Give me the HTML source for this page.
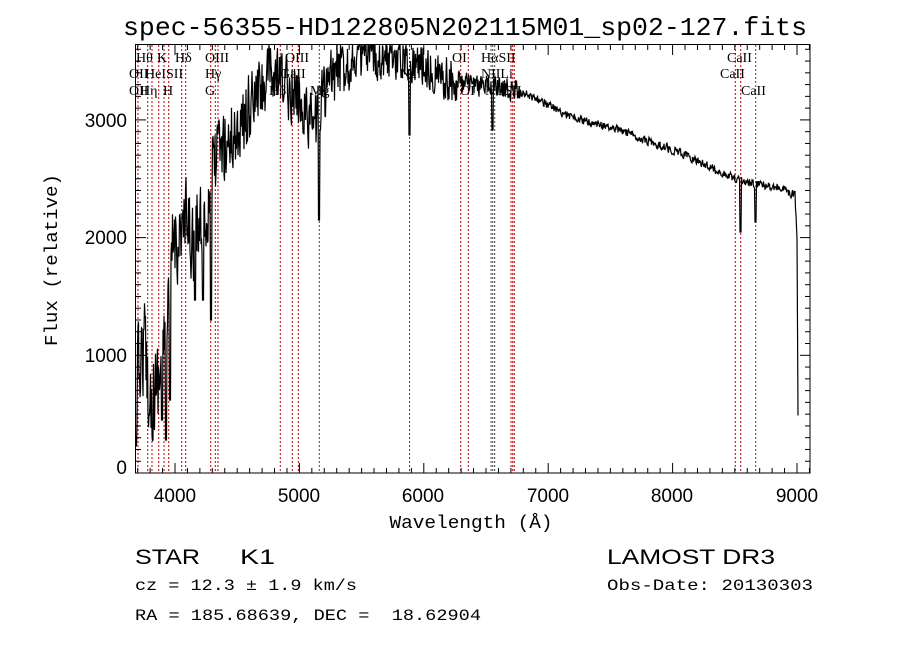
<!DOCTYPE html>
<html><head><meta charset="utf-8"><style>
html,body{margin:0;padding:0;background:#fff;}
svg{display:block;}
text{font-family:"Liberation Mono",monospace;fill:#000;}
.s text{font-family:"Liberation Serif",serif;font-size:14px;}
.t text{font-family:"Liberation Sans",sans-serif;font-size:19px;}
</style></head><body>
<svg id="c" width="900" height="649" viewBox="0 0 900 649" xmlns="http://www.w3.org/2000/svg">
<rect width="900" height="649" fill="#fff"/>
<text x="465" y="35" font-size="26" text-anchor="middle" textLength="684" lengthAdjust="spacingAndGlyphs">spec-56355-HD122805N202115M01_sp02-127.fits</text>
<g id="lines"></g>
<g id="spec"></g>
<g class="s">
<text x="136" y="62">Hθ</text><text x="157" y="62">K</text><text x="175" y="62">Hδ</text><text x="205" y="62">OIII</text><text x="285" y="62">OIII</text><text x="452" y="62">OI</text><text x="481" y="62">HαSII</text><text x="727" y="62">CaII</text>
<text x="129" y="78">OII</text><text x="145" y="78">HeI</text><text x="166" y="78">SII</text><text x="205" y="78">Hγ</text><text x="280" y="78">GaII</text><text x="400" y="78">Na</text><text x="481" y="78">NIILi</text><text x="720" y="78">CaII</text>
<text x="129" y="95">OII</text><text x="140" y="95">Hη</text><text x="163" y="95">H</text><text x="205" y="95">G</text><text x="269" y="95">Hβ</text><text x="310" y="95">Mg</text><text x="460" y="95">OI</text><text x="485" y="95">NIISII</text><text x="741" y="95">CaII</text>
</g>
<rect x="135.5" y="44.5" width="674.5" height="428.5" fill="none" stroke="#000" stroke-width="1"/>
<g id="ticks" stroke="#000" stroke-width="1"></g>
<g class="t">
<text x="175" y="502" text-anchor="middle">4000</text><text x="299" y="502" text-anchor="middle">5000</text><text x="423" y="502" text-anchor="middle">6000</text><text x="548" y="502" text-anchor="middle">7000</text><text x="672" y="502" text-anchor="middle">8000</text><text x="797" y="502" text-anchor="middle">9000</text>
<text x="127" y="474" text-anchor="end">0</text><text x="127" y="362" text-anchor="end">1000</text><text x="127" y="244" text-anchor="end">2000</text><text x="127" y="127" text-anchor="end">3000</text>
</g>
<text x="471" y="528" font-size="18" text-anchor="middle" textLength="163" lengthAdjust="spacingAndGlyphs">Wavelength (Å)</text>
<text transform="translate(57,260) rotate(-90)" font-size="18" text-anchor="middle" textLength="172" lengthAdjust="spacingAndGlyphs">Flux (relative)</text>
<text x="135" y="564" font-size="21" style="font-family:'Liberation Sans',sans-serif" textLength="65" lengthAdjust="spacingAndGlyphs">STAR</text>
<text x="240" y="564" font-size="21" style="font-family:'Liberation Sans',sans-serif" textLength="35" lengthAdjust="spacingAndGlyphs">K1</text>
<text x="607" y="564" font-size="21" style="font-family:'Liberation Sans',sans-serif" textLength="168" lengthAdjust="spacingAndGlyphs">LAMOST DR3</text>
<text x="135" y="590" font-size="16" textLength="222" lengthAdjust="spacingAndGlyphs">cz = 12.3 ± 1.9 km/s</text>
<text x="607" y="590" font-size="16" textLength="206" lengthAdjust="spacingAndGlyphs">Obs-Date: 20130303</text>
<text x="135" y="620" font-size="16" xml:space="preserve" textLength="346" lengthAdjust="spacingAndGlyphs">RA = 185.68639, DEC =  18.62904</text>
</svg>
<script>
var NS="http://www.w3.org/2000/svg";
function el(p,t,a){var e=document.createElementNS(NS,t);for(var k in a)e.setAttribute(k,a[k]);p.appendChild(e);return e;}
var L=document.getElementById('lines');
var red=[138,147.7,152,158.7,164,168.7,181.7,185.7,210.7,215.3,218,280.3,292.3,298.3,460.7,468.3,511,512.7,514.3,735.3,740.7];
var dark=[319.3,409.5,491,492.7,494.7,755.7];
red.forEach(function(x){el(L,'line',{x1:x,x2:x,y1:45,y2:473,stroke:'#c00000','stroke-dasharray':'2,2','stroke-width':1});});
dark.forEach(function(x){el(L,'line',{x1:x,x2:x,y1:45,y2:473,stroke:'#444','stroke-dasharray':'2,2','stroke-width':1});});
var T=document.getElementById('ticks');
for(var w=3700;w<=9100;w+=100){var x=175+(w-4000)*0.1244;if(x<136||x>810)continue;var len=(w%1000==0)?10:5;
el(T,'line',{x1:x,x2:x,y1:473,y2:473-len});el(T,'line',{x1:x,x2:x,y1:45,y2:45+len});}
for(var f=0;f<=3600;f+=100){var y=473-f*0.1177;if(y<45)continue;var len=(f%1000==0)?10:5;
el(T,'line',{x1:136,x2:136+len,y1:y,y2:y});el(T,'line',{x1:810,x2:810-len,y1:y,y2:y});}
var K=[[136,470],[137,380],[140,360],[145,345],[150,400],[155,390],[160,370],[165,350],[170,300],[173,240],[180,235],[186,225],[192,240],[200,225],[207,215],[212,170],[220,150],[230,140],[245,120],[258,95],[270,75],[285,85],[298,95],[305,110],[315,125],[322,95],[335,75],[345,62],[360,58],[380,58],[400,58],[420,62],[440,75],[460,85],[480,85],[500,88],[520,92],[540,100],[560,112],[580,120],[600,125],[620,130],[640,138],[660,145],[680,153],[700,162],[720,172],[740,180],[760,185],[780,188],[795,195],[797,240],[798,420]];
function base(x){for(var i=0;i<K.length-1;i++){if(x>=K[i][0]&&x<=K[i+1][0]){var t=(x-K[i][0])/(K[i+1][0]-K[i][0]);return K[i][1]+t*(K[i+1][1]-K[i][1]);}}return 420;}
var s=12345;function r(){s=(s*16807)%2147483647;return s/2147483647-0.5;}
var dips=[[409.5,135],[492.5,130],[319,220],[740.5,232],[755.5,222],[211,320],[195,300],[203,300],[166,440],[162,420],[149,415],[170,400]];
var d="";var prev=0;
for(var x=136;x<=798;x+=0.5){var y=base(x);var amp=x<200?85:x<260?70:x<350?60:x<460?42:x<520?22:8;
var n=r()*amp+prev*0.4;prev=n*0.5;y+=n;
for(var i=0;i<dips.length;i++){if(Math.abs(x-dips[i][0])<0.8)y=Math.max(y,dips[i][1]);}
if(y<45)y=45;if(y>473)y=473;d+=(d?"L":"M")+x.toFixed(1)+","+y.toFixed(1);}
el(document.getElementById('spec'),'path',{d:d,fill:'none',stroke:'#000','stroke-width':1.2});
</script>
</body></html>
